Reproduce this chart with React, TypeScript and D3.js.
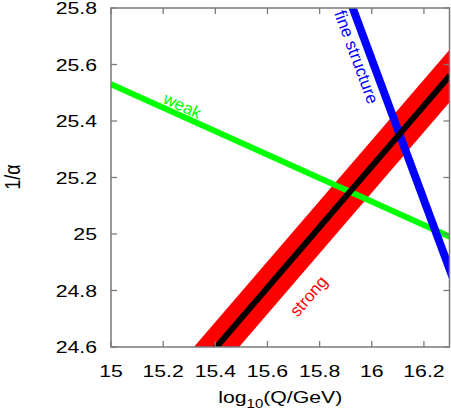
import React from "react";
import * as d3 from "d3";

// log10(Q/GeV) end points of each curve
const qRange = [15, 16.3];
const weakInv = [25.53, 24.99];
const strongInv = [24.166, 25.561];
const strongErr = 0.093;
const fineQ = [15.9, 16.35];
const fineInv = [25.867, 24.747];

const xTicks = [15, 15.2, 15.4, 15.6, 15.8, 16, 16.2];
const yTicks = [24.6, 24.8, 25, 25.2, 25.4, 25.6, 25.8];

const W = 451;
const H = 415;
const margin = { top: 8, right: 1, bottom: 68, left: 111 };
const FONT = "'Liberation Sans', Arial, Helvetica, sans-serif";
const STRETCH = 1.25;

export default function App() {
  const x = d3.scaleLinear().domain([15, 16.3]).range([margin.left, W - margin.right]);
  const y = d3.scaleLinear().domain([24.6, 25.8]).range([H - margin.bottom, margin.top]);

  const x0 = x.range()[0], x1 = x.range()[1] - 0.5;
  const y0 = y.range()[1], y1 = y.range()[0];

  const line = d3.line<[number, number]>().x((d) => x(d[0])).y((d) => y(d[1]));
  const band = d3
    .area<[number, number]>()
    .x((d) => x(d[0]))
    .y0((d) => y(d[1] - strongErr))
    .y1((d) => y(d[1] + strongErr));

  const weak = qRange.map((q, i) => [q, weakInv[i]] as [number, number]);
  const strong = qRange.map((q, i) => [q, strongInv[i]] as [number, number]);
  const fine = fineQ.map((q, i) => [q, fineInv[i]] as [number, number]);

  const frame = "#7a7a7a";
  const tickLen = 6;

  return (
    <svg
      width={W}
      height={H}
      style={{ position: "absolute", left: 0, top: 0, background: "#fff" }}
      fontFamily={FONT}
    >
      <defs>
        <clipPath id="plot">
          <rect x={x0} y={y0} width={x1 - x0} height={y1 - y0} />
        </clipPath>
      </defs>

      <g clipPath="url(#plot)">
        <path d={band(strong) || ""} fill="#ff0000" />
        <path d={line(weak) || ""} stroke="#00ff00" strokeWidth={6} fill="none" />
        <path d={line(fine) || ""} stroke="#0000ff" strokeWidth={8} fill="none" />
        <path d={line(strong) || ""} stroke="#000" strokeWidth={6} fill="none" />
      </g>

      {/* ticks on all four sides */}
      {xTicks.map((t) => (
        <g key={"xt" + t} stroke={frame} strokeWidth={1.3}>
          <line x1={x(t)} x2={x(t)} y1={y1} y2={y1 - tickLen} />
          <line x1={x(t)} x2={x(t)} y1={y0} y2={y0 + tickLen} />
        </g>
      ))}
      {yTicks.map((t) => (
        <g key={"yt" + t} stroke={frame} strokeWidth={1.3}>
          <line x1={x0} x2={x0 + tickLen} y1={y(t)} y2={y(t)} />
          <line x1={x1} x2={x1 - tickLen} y1={y(t)} y2={y(t)} />
        </g>
      ))}
      <rect x={x0} y={y0} width={x1 - x0} height={y1 - y0} fill="none" stroke={frame} strokeWidth={1.5} />

      {xTicks.map((t) => (
        <text
          key={"xl" + t}
          transform={`translate(${x(t)},${y1 + 30}) scale(${STRETCH},1)`}
          textAnchor="middle"
          fontSize={17}
          fill="#000"
        >
          {d3.format("")(t)}
        </text>
      ))}
      {yTicks.map((t) => (
        <text
          key={"yl" + t}
          transform={`translate(${x0 - 14},${y(t) + 6}) scale(${STRETCH},1)`}
          textAnchor="end"
          fontSize={17}
          fill="#000"
        >
          {d3.format("")(t)}
        </text>
      ))}

      <text
        transform={`translate(${(x0 + x1) / 2},${H - 12}) scale(${STRETCH},1)`}
        textAnchor="middle"
        fontSize={17}
        fill="#000"
      >
        log<tspan fontSize={12} dy={5}>10</tspan>
        <tspan dy={-5}>(Q/GeV)</tspan>
      </text>
      <text
        transform={`translate(20,177) scale(${STRETCH},1) rotate(-90)`}
        textAnchor="middle"
        fontSize={18}
        fill="#000"
      >
        1/α
      </text>

      <text transform="translate(180,111) rotate(24.5)" textAnchor="middle" fontSize={17} fill="#00ff00">
        weak
      </text>
      <text transform="translate(313,300) rotate(-49)" textAnchor="middle" fontSize={17} fill="#ff0000">
        strong
      </text>
      <text transform="translate(351,59) rotate(69.6)" textAnchor="middle" fontSize={17} fill="#0000ff">
        fine structure
      </text>
    </svg>
  );
}
